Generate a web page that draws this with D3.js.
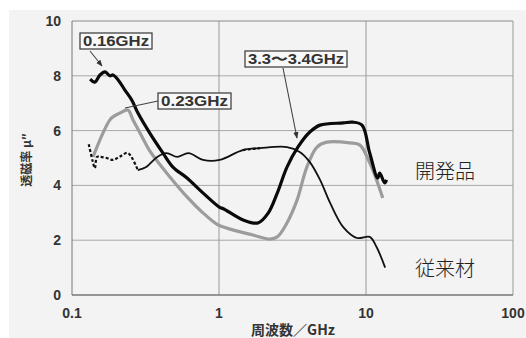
<!DOCTYPE html>
<html>
<head>
<meta charset="utf-8">
<script src="https://cdn.jsdelivr.net/npm/d3@7"></script>
<style>
  body { margin: 0; background: #fff; }
  svg { display: block; }
</style>
</head>
<body>
<div id="chart"></div>
<script>
// axis ticks
var xTicks = [0.1, 1, 10, 100];
var xTickLabels = ["0.1", "1", "10", "100"];
var yTicks = [0, 2, 4, 6, 8, 10];

// 開発品 (thick black)
var devFreq = [0.133, 0.143, 0.155, 0.168, 0.181, 0.19, 0.206, 0.229, 0.256, 0.281, 0.339, 0.416, 0.486, 0.606, 0.78, 1.01, 1.07, 1.46, 1.84, 2.16, 2.49, 2.9, 3.44, 4.15, 4.87, 7.0, 8.1, 9.4, 10.6, 12.0, 12.4, 13.4, 13.8];
var devMu = [7.88, 7.77, 8.03, 8.14, 8.0, 8.03, 7.85, 7.48, 7.1, 6.64, 5.9, 5.18, 4.67, 4.27, 3.72, 3.2, 3.15, 2.74, 2.63, 2.99, 3.72, 4.67, 5.4, 5.95, 6.2, 6.28, 6.31, 6.2, 5.18, 4.27, 4.45, 4.09, 4.2];

// 開発品 second curve (grey)
var greyFreq = [0.139, 0.162, 0.181, 0.19, 0.212, 0.24, 0.26, 0.3, 0.339, 0.465, 0.606, 0.78, 0.97, 1.13, 1.7, 2.22, 2.49, 2.9, 3.4, 3.96, 4.64, 5.4, 7.8, 9.1, 10.6, 12.0, 13.0];
var greyMu = [5.04, 5.9, 6.39, 6.5, 6.64, 6.75, 6.39, 5.77, 5.25, 4.3, 3.58, 2.99, 2.58, 2.44, 2.19, 2.04, 2.12, 2.63, 3.47, 4.67, 5.4, 5.58, 5.55, 5.47, 4.82, 4.09, 3.54];

// 従来材 (thin black, partly dotted)
var oldFreq = [0.13, 0.138, 0.143, 0.148, 0.155, 0.172, 0.19, 0.21, 0.24, 0.28, 0.32, 0.38, 0.44, 0.52, 0.62, 0.78, 1.01, 1.45, 1.9, 2.9, 3.54, 4.15, 4.87, 5.7, 7.0, 8.7, 10.6, 11.8, 13.5];
var oldMu = [5.5, 4.9, 4.63, 5.04, 5.04, 5.0, 4.93, 5.04, 5.18, 4.56, 4.67, 5.04, 5.18, 5.04, 5.18, 4.93, 4.93, 5.29, 5.36, 5.4, 5.22, 4.85, 4.2, 3.36, 2.48, 2.08, 2.12, 1.75, 1.0];
var oldDotted = [[0.13, 0.3], [1.05, 2.1]];

var width = 526, height = 338;
var svg = d3.select("#chart").append("svg")
  .attr("width", width).attr("height", height);

// scanned paper background
svg.append("rect").attr("x", 0).attr("y", 0).attr("width", width).attr("height", height).attr("fill", "#fff");
svg.append("rect").attr("x", 9).attr("y", 10).attr("width", width - 9).attr("height", height - 10).attr("fill", "#f3f3f3");

var x = d3.scaleLog().domain([0.1, 100]).range([72, 513]);
var y = d3.scaleLinear().domain([0, 10]).range([295, 21]);

// grid
svg.selectAll(".hgrid").data(yTicks.filter(function(d){ return d > 0; }))
  .enter().append("line")
  .attr("x1", x(0.1)).attr("x2", x(100))
  .attr("y1", function(d){ return y(d); })
  .attr("y2", function(d){ return y(d); })
  .attr("stroke", function(d){ return d == 10 ? "#8a8a8a" : "#a8a8a8"; })
  .attr("stroke-width", 1);

svg.selectAll(".vgrid").data(xTicks)
  .enter().append("line")
  .attr("x1", function(d){ return x(d); })
  .attr("x2", function(d){ return x(d); })
  .attr("y1", y(10)).attr("y2", y(0))
  .attr("stroke", function(d){ return d == 0.1 ? "#777" : "#999"; })
  .attr("stroke-width", 1);

// bottom axis line
svg.append("line")
  .attr("x1", x(0.1)).attr("x2", x(100))
  .attr("y1", y(0)).attr("y2", y(0))
  .attr("stroke", "#777").attr("stroke-width", 1.5);

// tick labels
svg.selectAll(".ylab").data(yTicks)
  .enter().append("text")
  .attr("x", 61)
  .attr("y", function(d){ return y(d) + 5; })
  .attr("text-anchor", "end")
  .attr("font-family", "Liberation Sans, Arial, sans-serif")
  .attr("font-weight", "bold")
  .attr("font-size", 14)
  .attr("fill", "#333")
  .text(function(d){ return d; });

svg.selectAll(".xlab").data(xTicks)
  .enter().append("text")
  .attr("x", function(d){ return x(d); })
  .attr("y", 318)
  .attr("text-anchor", "middle")
  .attr("font-family", "Liberation Sans, Arial, sans-serif")
  .attr("font-weight", "bold")
  .attr("font-size", 14)
  .attr("fill", "#333")
  .text(function(d, i){ return xTickLabels[i]; });

// axis titles
svg.append("text")
  .attr("x", 293).attr("y", 335)
  .attr("text-anchor", "middle")
  .attr("font-family", "Noto Sans CJK JP, sans-serif")
  .attr("font-weight", "bold")
  .attr("font-size", 14)
  .attr("fill", "#333")
  .text("周波数／GHz");

svg.append("text")
  .attr("transform", "translate(31,160) rotate(-90)")
  .attr("text-anchor", "middle")
  .attr("font-family", "Noto Sans CJK JP, sans-serif")
  .attr("font-weight", "bold")
  .attr("font-size", 12)
  .attr("fill", "#333")
  .text("透磁率  μ″");

// curves
var line = d3.line()
  .x(function(d){ return x(d[0]); })
  .y(function(d){ return y(d[1]); })
  .curve(d3.curveCatmullRom.alpha(0.5));

var greyData = d3.zip(greyFreq, greyMu);
var devData = d3.zip(devFreq, devMu);
var oldData = d3.zip(oldFreq, oldMu);

svg.append("path").datum(greyData)
  .attr("d", line)
  .attr("fill", "none")
  .attr("stroke", "#9c9c9c")
  .attr("stroke-width", 3.2)
  .attr("stroke-linejoin", "round");

// 従来材: dotted parts first
function inDotted(f) {
  return oldDotted.some(function(r){ return f >= r[0] && f <= r[1]; });
}
oldDotted.forEach(function(r){
  var seg = oldData.filter(function(d){
    return d[0] >= r[0] && d[0] <= r[1];
  });
  svg.append("path").datum(seg)
    .attr("d", line)
    .attr("fill", "none")
    .attr("stroke", "#111")
    .attr("stroke-width", 2.2)
    .attr("stroke-dasharray", "3,2");
});
// solid remainder of 従来材
var solidParts = [];
var cur = [];
oldData.forEach(function(d, i){
  if (!inDotted(d[0]) || (i > 0 && !inDotted(oldData[i-1][0])) || (i < oldData.length - 1 && !inDotted(oldData[i+1][0]))) {
    cur.push(d);
  } else {
    if (cur.length > 1) solidParts.push(cur);
    cur = [];
  }
});
if (cur.length > 1) solidParts.push(cur);
solidParts.forEach(function(seg){
  svg.append("path").datum(seg)
    .attr("d", line)
    .attr("fill", "none")
    .attr("stroke", "#111")
    .attr("stroke-width", 1.8);
});

svg.append("path").datum(devData)
  .attr("d", line)
  .attr("fill", "none")
  .attr("stroke", "#0a0a0a")
  .attr("stroke-width", 3.2)
  .attr("stroke-linejoin", "round");

// annotations
var notes = [
  {text: "0.16GHz", bx: 80, by: 33, bw: 72, bh: 16, from: [90, 51], to: [102, 66], arrow: true},
  {text: "0.23GHz", bx: 158, by: 93, bw: 73, bh: 16, from: [158, 101], to: [125, 108], arrow: false},
  {text: "3.3〜3.4GHz", bx: 245, by: 51, bw: 102, bh: 16, from: [283, 68], to: [297, 138], arrow: true}
];

var defs = svg.append("defs");
defs.append("marker")
  .attr("id", "ah")
  .attr("viewBox", "0 0 10 10")
  .attr("refX", 9).attr("refY", 5)
  .attr("markerWidth", 6).attr("markerHeight", 6)
  .attr("orient", "auto")
  .append("path")
  .attr("d", "M0,1 L10,5 L0,9 z")
  .attr("fill", "#333");

var g = svg.selectAll(".note").data(notes).enter().append("g");
g.append("line")
  .attr("x1", function(d){ return d.from[0]; })
  .attr("y1", function(d){ return d.from[1]; })
  .attr("x2", function(d){ return d.to[0]; })
  .attr("y2", function(d){ return d.to[1]; })
  .attr("stroke", "#444")
  .attr("stroke-width", 1.1)
  .attr("marker-end", function(d){ return d.arrow ? "url(#ah)" : null; });
g.append("rect")
  .attr("x", function(d){ return d.bx; })
  .attr("y", function(d){ return d.by; })
  .attr("width", function(d){ return d.bw; })
  .attr("height", function(d){ return d.bh; })
  .attr("fill", "#f8f8f8")
  .attr("stroke", "#444")
  .attr("stroke-width", 1.3);
g.append("text")
  .attr("x", function(d){ return d.bx + d.bw / 2; })
  .attr("y", function(d){ return d.by + d.bh - 3; })
  .attr("text-anchor", "middle")
  .attr("font-family", "Liberation Sans, Arial, sans-serif")
  .attr("font-weight", "bold")
  .attr("font-size", 14)
  .attr("textLength", function(d){ return d.bw - 6; })
  .attr("lengthAdjust", "spacingAndGlyphs")
  .attr("fill", "#333")
  .text(function(d){ return d.text; });

// right-hand labels
svg.append("text")
  .attr("x", 415).attr("y", 179)
  .attr("font-family", "Noto Sans CJK JP, sans-serif")
  .attr("font-size", 20)
  .attr("font-weight", 300)
  .attr("fill", "#222")
  .text("開発品");
svg.append("text")
  .attr("x", 415).attr("y", 276)
  .attr("font-family", "Noto Sans CJK JP, sans-serif")
  .attr("font-size", 20)
  .attr("font-weight", 300)
  .attr("fill", "#222")
  .text("従来材");
</script>
</body>
</html>
